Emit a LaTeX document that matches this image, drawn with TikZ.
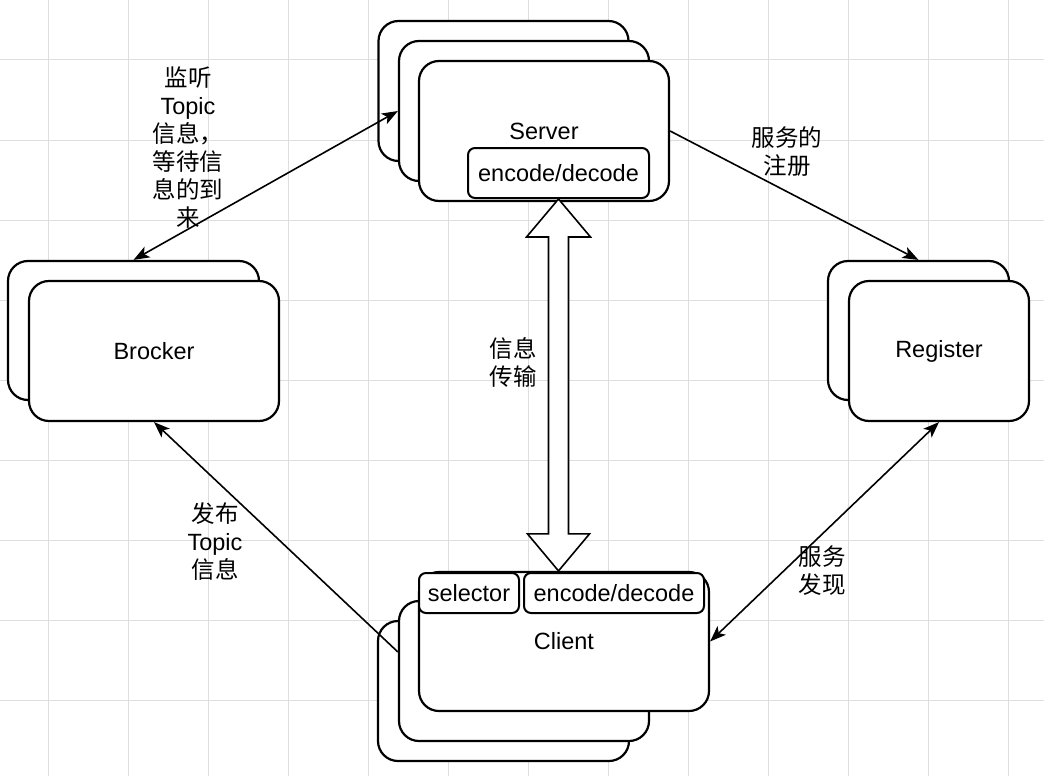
\documentclass[tikz,border=0pt]{standalone}
\usepackage{fontspec}
\setmainfont{Liberation Sans}
\newfontfamily\cjk{Noto Sans CJK SC}
\usetikzlibrary{arrows.meta,calc}
\begin{document}
\begin{tikzpicture}[x=1pt,y=-1pt,
  box/.style={draw, line width=2.2pt, fill=white, rounded corners=20pt, inner sep=0pt, font=\fontsize{23.5}{28}\selectfont},
  sub/.style={draw, line width=2pt, fill=white, rounded corners=7pt, inner sep=0pt, font=\fontsize{23.5}{28}\selectfont},
  lbl/.style={align=center, inner sep=0pt, font=\fontsize{23.5}{28}\selectfont},
  conn/.style={line width=1.6pt},
  majorgrid/.style={draw=black!13, line width=1pt},
  ctip/.tip={Stealth[length=16pt,width=12pt,inset=4pt]}
]
\useasboundingbox (0,0) rectangle (1044,776);
\fill[white] (0,0) rectangle (1044,776);
% grid
\foreach \x in {48,128,...,1008} \draw[majorgrid] (\x,0) -- (\x,776);
\foreach \y in {60,140,...,700} \draw[majorgrid] (0,\y) -- (1044,\y);

% Server stack
\node[box, minimum width=250pt, minimum height=140pt] (svb) at (503.5,91) {};
\node[box, minimum width=250pt, minimum height=140pt] (svm) at (524,111) {};
\node[box, minimum width=250pt, minimum height=140pt] (svf) at (544,131) {Server};
\node[sub, minimum width=181pt, minimum height=50pt] (sven) at (558.5,173) {encode/decode};

% Brocker stack
\node[box, minimum width=251pt, minimum height=139pt] (brb) at (133.5,330.5) {};
\node[box, minimum width=250pt, minimum height=140pt] (brf) at (154,351) {Brocker};

% Register stack
\node[box, minimum width=181pt, minimum height=139pt] (rgb) at (918.5,330.5) {};
\node[box, minimum width=180pt, minimum height=140pt] (rgf) at (939,351) {Register};

% Client stack
\node[box, minimum width=251pt, minimum height=140pt] (clb) at (503.5,691) {};
\node[box, minimum width=250pt, minimum height=140pt] (clm) at (524,671) {};
\node[box, minimum width=290pt, minimum height=139pt] (clf) at (564,641.5) {Client};
\node[sub, minimum width=100pt, minimum height=40pt] (clsel) at (469,593) {selector};
\node[sub, minimum width=180pt, minimum height=40pt] (clen) at (614,593) {encode/decode};

% connectors
\draw[conn, ctip-ctip] (brb.north) -- (svm.west);
\draw[conn, -ctip] (svf.east) -- (rgb.north);
\draw[conn, ctip-ctip] (rgf.south) -- (clf.east);
\draw[conn, -ctip] ([yshift=19pt]clm.west) -- (brf.south);

% big hollow double arrow
\coordinate (A) at (sven.south);
\coordinate (B) at (sven.south |- clf.north);
\draw[line width=1.6pt, fill=white, line join=miter]
  (A) -- ($(A)+(32,38)$) -- ($(A)+(10,38)$) -- ($(B)+(10,-37)$) -- ($(B)+(31,-37)$)
  -- (B) -- ($(B)+(-31,-37)$) -- ($(B)+(-10,-37)$) -- ($(A)+(-10,38)$) -- ($(A)+(-32,38)$) -- cycle;

% labels
\node[lbl] (l1) at (188,148) {{\cjk 监听}\\Topic\\{\cjk 信息，}\\{\cjk 等待信}\\{\cjk 息的到}\\{\cjk 来}};
\node[lbl] (l2) at (787,151.5) {{\cjk 服务的}\\{\cjk 注册}};
\node[lbl] (l3) at (513,362) {{\cjk 信息}\\{\cjk 传输}};
\node[lbl] (l4) at (215,542) {{\cjk 发布}\\Topic\\{\cjk 信息}};
\node[lbl] (l5) at (822,571) {{\cjk 服务}\\{\cjk 发现}};
\end{tikzpicture}
\end{document}
